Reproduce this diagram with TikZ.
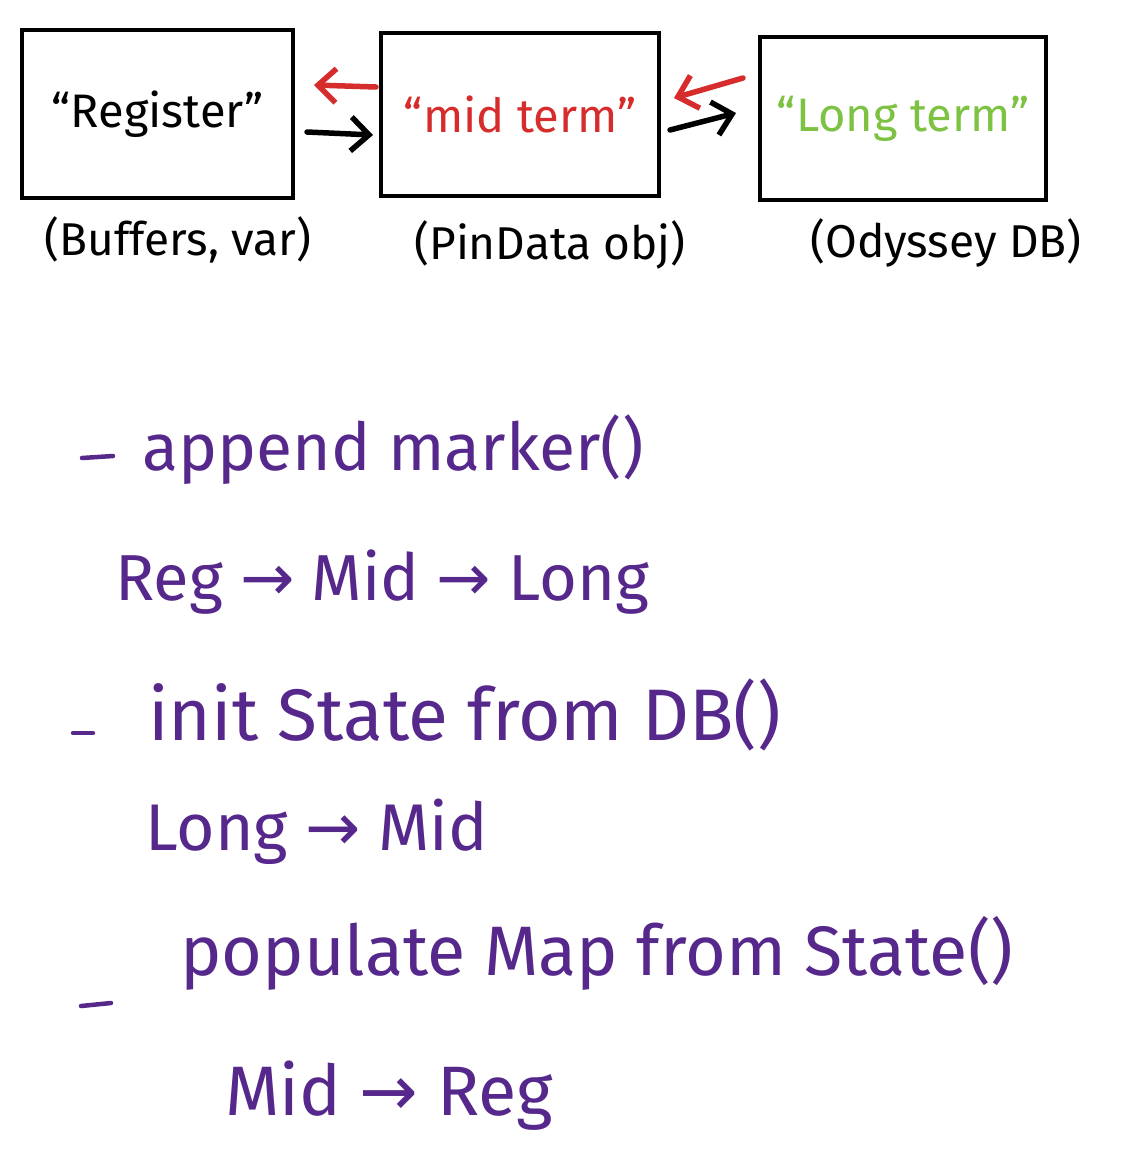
\documentclass[tikz,border=0pt]{standalone}
\usepackage{fontspec}
\setmainfont{Fira Sans}
\newfontfamily\arr{DejaVu Sans}
\usetikzlibrary{arrows.meta}
\definecolor{penred}{RGB}{214,44,44}
\definecolor{pengreen}{RGB}{125,194,66}
\definecolor{penpurple}{RGB}{86,40,140}
\tikzset{
  memory/.style={draw=black, line width=4pt, inner sep=0pt, font=\fontsize{47}{54}\selectfont},
  sublabel/.style={font=\fontsize{46}{52}\selectfont, inner sep=0pt},
  note/.style={text=penpurple, inner sep=0pt, anchor=base west},
  dashmark/.style={draw=penpurple, line width=4.5pt, line cap=round},
  flow/.style={line width=5.5pt, line cap=round, -{Straight Barb[length=18pt, width=34pt, line width=5.5pt]}},
}
\begin{document}
\begin{tikzpicture}[x=1pt,y=-1pt]
\useasboundingbox (0,0) rectangle (1126,1171);
\fill[white] (0,0) rectangle (1126,1171);

\node[memory, minimum width=271, minimum height=168] (reg) at (157.5,114) {“Register”};
\node[memory, minimum width=278, minimum height=163, text=penred] (mid) at (520,114.5) {“mid term”};
\node[memory, minimum width=286, minimum height=163, text=pengreen] (long) at (903,118.5) {“Long term”};

\node[sublabel] (lreg) at (178,240) {(Buffers, var)};
\node[sublabel] (lmid) at (550,245) {(PinData obj)};
\node[sublabel] (llong) at (946,243) {(Odyssey DB)};

\draw[flow, penred] ([xshift=-3pt,yshift=27.5pt]mid.west) -- ([xshift=19pt,yshift=29pt]reg.east);
\draw[flow, black] ([xshift=12pt,yshift=-18pt]reg.east) -- ([xshift=-6pt,yshift=-20.5pt]mid.west);
\draw[flow, penred] ([xshift=-15pt,yshift=40.5pt]long.west) -- ([xshift=13pt,yshift=16.5pt]mid.east);
\draw[flow, black] ([xshift=9pt,yshift=-15.5pt]mid.east) -- ([xshift=-22pt,yshift=5.5pt]long.west);

\coordinate (d1a) at (82,458); \coordinate (d1b) at (113,456);
\draw[dashmark] (d1a) -- (d1b);
\node[note, font=\fontsize{66}{72}\selectfont] (n1) at (142,470) {append marker()};
\node[note, font=\fontsize{65}{72}\selectfont] (n2) at (115,600) {Reg {\arr→} Mid {\arr→} Long};
\coordinate (d2a) at (73,733); \coordinate (d2b) at (93,733);
\draw[dashmark] (d2a) -- (d2b);
\node[note, font=\fontsize{73}{80}\selectfont] (n3) at (148,740) {init State from DB()};
\node[note, font=\fontsize{66}{72}\selectfont] (n4) at (145,850) {Long {\arr→} Mid};
\coordinate (d3a) at (81,1006); \coordinate (d3b) at (111,1003);
\draw[dashmark] (d3a) -- (d3b);
\node[note, font=\fontsize{70}{78}\selectfont] (n5) at (180,975) {populate Map from State()};
\node[note, font=\fontsize{70}{78}\selectfont] (n6) at (225,1115) {Mid {\arr→} Reg};
\end{tikzpicture}
\end{document}
